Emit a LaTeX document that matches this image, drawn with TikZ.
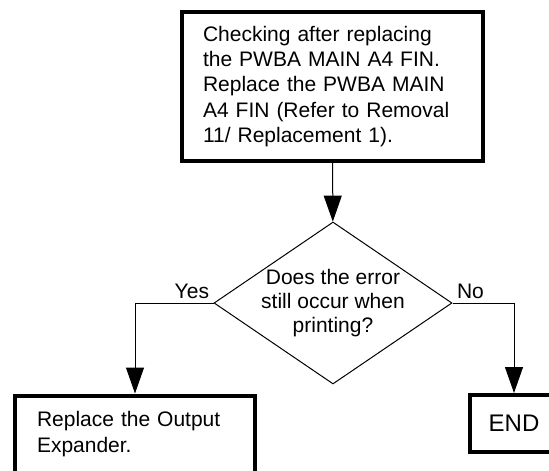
\documentclass[tikz,border=0pt]{standalone}
\usepackage{fontspec}
\setmainfont{Liberation Sans}
\usetikzlibrary{arrows.meta,shapes.geometric,positioning}

\begin{document}
\begin{tikzpicture}[x=1pt,y=1pt,>={Triangle[width=18pt,length=26pt]},
  font=\fontsize{21pt}{25.3pt}\selectfont,
  box/.style={draw,rectangle,line width=4pt,align=left},
  decision/.style={draw,diamond,line width=1pt,aspect=1.47,inner sep=-6pt,
    minimum width=238pt,minimum height=162pt,align=center,
    font=\fontsize{21pt}{24pt}\selectfont},
  flow/.style={->,line width=1pt},
  answer/.style={inner sep=4pt}]
\useasboundingbox (0,0) rectangle (549,-471);
\node[box,minimum width=301pt,minimum height=149pt,inner xsep=21pt,text width=259pt] (check) at (332.5,-86.5)
  {Checking after replacing\\the PWBA MAIN A4 FIN.\\Replace the PWBA MAIN\\A4 FIN (Refer to Removal\\11/ Replacement 1).};
\node[decision] (ask) at (333,-303) {Does the error\\still occur when\\printing?};
\node[box,anchor=north,minimum width=240pt,inner xsep=22pt,inner ysep=16pt,text width=196pt,text depth=45pt] (expander) at (135,-393.5)
  {Replace the Output\\Expander.};
\node[box,anchor=north,minimum width=88pt,minimum height=57pt,font=\fontsize{24pt}{28pt}\selectfont] (end) at (514,-393) {END};
\draw[flow] (check) -- (ask);
\draw[flow] (ask.west) -| (expander.north) node[answer,pos=0,above left] {Yes};
\draw[flow] (ask.east) -| (end.north) node[answer,pos=0,above right] {No};
\end{tikzpicture}
\end{document}
